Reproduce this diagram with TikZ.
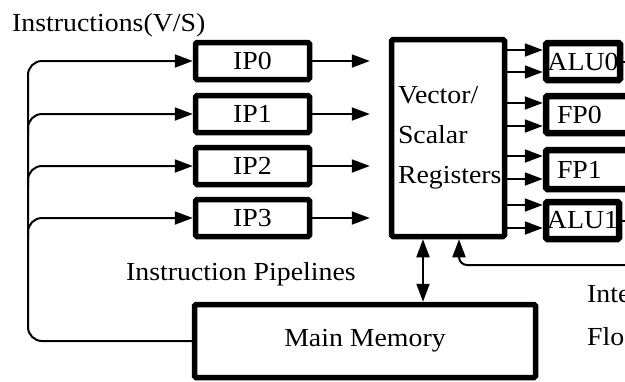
\documentclass[tikz,border=0pt]{standalone}
\usepackage{fontspec}
\setmainfont{Liberation Serif}[FakeStretch=1.07]
\usetikzlibrary{arrows.meta,calc}

\tikzset{
  ipbox/.style={draw, line width=5.5pt, rounded corners=1.5pt, minimum width=114pt, minimum height=37pt, inner sep=0pt},
  unitbox/.style={draw, line width=6.5pt, rounded corners=1.5pt, minimum height=37pt, inner sep=0pt},
  wire/.style={line width=2pt},
  arr/.style={wire, -{Triangle[length=18pt,width=13pt]}},
  arrboth/.style={wire, {Triangle[length=18pt,width=13pt]}-{Triangle[length=18pt,width=13pt]}},
  txt/.style={inner sep=0pt, anchor=base west}
}

\begin{document}
\begin{tikzpicture}[x=1pt, y=-1pt, font=\fontsize{26}{40}\selectfont]
      \useasboundingbox (0,0) rectangle (625,381);
      \clip (0,0) rectangle (625,381);

      % instruction pipelines
      \node[ipbox] (ip0) at (252.5,61) {IP0};
      \node[ipbox] (ip1) at (252.5,114) {IP1};
      \node[ipbox] (ip2) at (252.5,166) {IP2};
      \node[ipbox] (ip3) at (252.5,218) {IP3};

      \node[draw, line width=5.5pt, rounded corners=1.5pt, minimum width=113pt, minimum height=197pt,
        text width=100pt, inner xsep=6.5pt, align=left] (regs) at (448,138) {Vector/\\Scalar\\Registers};

      % functional units
      \node[unitbox, minimum width=74pt] (alu0) at (583,61.5) {ALU0};
      \node[unitbox, minimum width=100pt, text width=78pt, inner xsep=11pt, align=left] (fp0) at (596,114.5) {FP0};
      \node[unitbox, minimum width=100pt, minimum height=39pt, text width=78pt, inner xsep=11pt, align=left] (fp1) at (596,169.5) {FP1};
      \node[unitbox, minimum width=73pt] (alu1) at (582.5,220.5) {ALU1};

      \node[draw, line width=5.5pt, rounded corners=1.5pt, minimum width=341pt, minimum height=73pt] (mm) at (365,341) {Main Memory};

      \node[txt] (instr) at (12,31) {Instructions(V/S)};
      \node[txt] (pipes) at (126,280) {Instruction Pipelines};
      \node[txt] (intu) at (587,302) {Inte};
      \node[txt] (fltu) at (587,345) {Flo};

      % instruction bus
      \coordinate (bustop) at (28,61);
      \coordinate (fbin) at (640,265);
      \draw[arr, rounded corners=14pt] (mm.west) -| (bustop) -- (ip0.west);
      \draw[arr, rounded corners=14pt] ($(bustop |- ip1.west)+(0,20)$) -- (bustop |- ip1.west) -- (ip1.west);
      \draw[arr, rounded corners=14pt] ($(bustop |- ip2.west)+(0,20)$) -- (bustop |- ip2.west) -- (ip2.west);
      \draw[arr, rounded corners=14pt] ($(bustop |- ip3.west)+(0,20)$) -- (bustop |- ip3.west) -- (ip3.west);

      \draw[arr, shorten >=19pt] (ip0.east) -- (ip0.east -| regs.west);
      \draw[arr, shorten >=19pt] (ip1.east) -- (ip1.east -| regs.west);
      \draw[arr, shorten >=19pt] (ip2.east) -- (ip2.east -| regs.west);
      \draw[arr, shorten >=19pt] (ip3.east) -- (ip3.east -| regs.west);

      % registers to units
      \draw[arr] (regs.east |- 0,50) -- (alu0.west |- 0,50);
      \draw[arr] (regs.east |- 0,72) -- (alu0.west |- 0,72);
      \draw[arr] (regs.east |- 0,103) -- (fp0.west |- 0,103);
      \draw[arr] (regs.east |- 0,126) -- (fp0.west |- 0,126);
      \draw[arr] (regs.east |- 0,156) -- (fp1.west |- 0,156);
      \draw[arr] (regs.east |- 0,179) -- (fp1.west |- 0,179);
      \draw[arr] (regs.east |- 0,205) -- (alu1.west |- 0,205);
      \draw[arr] (regs.east |- 0,228) -- (alu1.west |- 0,228);
      \draw[wire] (alu0.east) -- ++(20,0);
      \draw[wire] (alu1.east) -- ++(20,0);

      \draw[arrboth] ([xshift=-25pt]regs.south) -- ([xshift=-25pt]regs.south |- mm.north);
      \draw[arr, rounded corners=8pt] (fbin) -| ([xshift=11pt]regs.south);
\end{tikzpicture}
\end{document}
